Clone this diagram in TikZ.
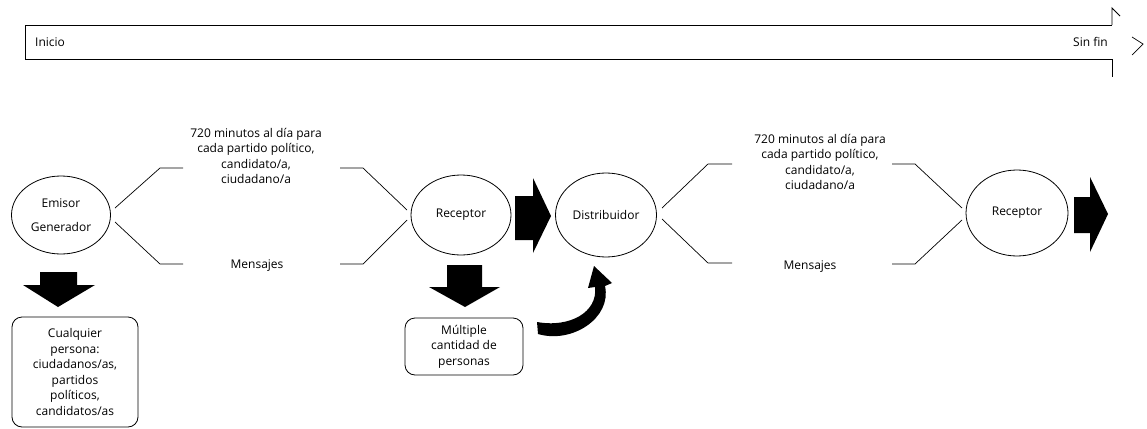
\documentclass[tikz,border=0pt]{standalone}
\usepackage{fontspec}
\setmainfont{Open Sans}
\usetikzlibrary{shapes.geometric}
\begin{document}
\begin{tikzpicture}[x=1pt,y=-1pt,
  txt/.style={font=\fontsize{12}{15.6}\selectfont, align=center, inner sep=0pt},
  bubble/.style={draw, ellipse, line width=0.8pt, inner sep=0pt,
    font=\fontsize{12}{15.6}\selectfont, align=center},
  link/.style={line width=0.7pt},
  blockarrow/.style={fill=black},
  infobox/.style={draw, rounded corners=10pt, line width=0.8pt, inner sep=0pt,
    font=\fontsize{12}{15.6}\selectfont, align=center},
  timeline/.style={line width=0.9pt}]
\useasboundingbox (0,0) rectangle (1147,428);

% time line across the top
\draw[timeline] (1112,25) -- (25,25) -- (25,59) -- (1112,59);
\draw[timeline] (1120,16) -- (1112,8) -- (1112,25);
\draw[timeline] (1112,59) -- (1112,77);
\draw[line width=0.7pt] (1132,37) -- (1143,44) -- (1132,55);
\node[txt, anchor=west] (inicio) at (35,42) {Inicio};
\node[txt, anchor=east] (sinfin) at (1108,42) {Sin fin};

% stages
\node[bubble, minimum width=99pt, minimum height=78pt] (emisor) at (61,215)
  {Emisor\\[8pt]Generador};
\node[bubble, minimum width=100pt, minimum height=80pt] (receptor) at (461,215) {Receptor};
\node[bubble, minimum width=101pt, minimum height=84pt] (distrib) at (606,215) {Distribuidor};
\node[bubble, minimum width=102pt, minimum height=86pt] (receptorB) at (1017,213) {Receptor};

% channel texts
\node[txt] (canalA) at (256,156) {720 minutos al día para\\cada partido político,\\candidato/a,\\ciudadano/a};
\node[txt] (msgA) at (257,266) {Mensajes};
\node[txt] (canalB) at (820,162) {720 minutos al día para\\cada partido político,\\candidato/a,\\ciudadano/a};
\node[txt] (msgB) at (810,267) {Mensajes};

% bracket-like connectors, first channel
\coordinate (a1) at (115,208); \coordinate (a2) at (160,168); \coordinate (a3) at (183,168);
\coordinate (a4) at (340,168); \coordinate (a5) at (363,168); \coordinate (a6) at (407,210);
\coordinate (b1) at (115,222); \coordinate (b2) at (160,264); \coordinate (b3) at (183,264);
\coordinate (b4) at (340,264); \coordinate (b5) at (363,264); \coordinate (b6) at (407,220);
\draw[link] (a1) -- (a2) -- (a3);
\draw[link] (a4) -- (a5) -- (a6);
\draw[link] (b1) -- (b2) -- (b3);
\draw[link] (b4) -- (b5) -- (b6);

% bracket-like connectors, second channel
\coordinate (c1) at (662,208); \coordinate (c2) at (708,164); \coordinate (c3) at (732,164);
\coordinate (c4) at (892,164); \coordinate (c5) at (915,164); \coordinate (c6) at (962,208);
\coordinate (d1) at (662,219); \coordinate (d2) at (708,263); \coordinate (d3) at (732,263);
\coordinate (d4) at (892,264); \coordinate (d5) at (915,264); \coordinate (d6) at (962,220);
\draw[link] (c1) -- (c2) -- (c3);
\draw[link] (c4) -- (c5) -- (c6);
\draw[link] (d1) -- (d2) -- (d3);
\draw[link] (d4) -- (d5) -- (d6);

% block arrows to the right
\fill[blockarrow] (515,196) -- (533,196) -- (533,178) -- (551,216) -- (533,253)
  -- (533,240) -- (515,240) -- cycle;
\fill[blockarrow] (1074,197) -- (1090,197) -- (1090,177) -- (1108,214) -- (1090,252)
  -- (1090,233) -- (1074,233) -- cycle;

% block arrows downward
\fill[blockarrow] (40,272) -- (77,272) -- (77,285) -- (95,285) -- (58,307)
  -- (23,285) -- (40,285) -- cycle;
\fill[blockarrow] (447,265) -- (482,265) -- (482,287) -- (500,287) -- (465,307)
  -- (429,287) -- (447,287) -- cycle;

% who takes part
\node[infobox, minimum width=126pt, minimum height=110pt] (boxA) at (75,372)
  {Cualquier\\persona:\\ciudadanos/as,\\partidos\\políticos,\\candidatos/as};
\node[infobox, minimum width=118pt, minimum height=57pt] (boxB) at (464,346.5)
  {Múltiple\\cantidad de\\personas};

% curved return arrow into the distributor
\fill[blockarrow] (537,322) -- (538,334) .. controls (572,344) and (612,318) .. (605,286)
  -- (612,283) -- (594,266) -- (588,288) -- (595,287)
  .. controls (598,312) and (570,328) .. (537,322) -- cycle;
\end{tikzpicture}
\end{document}
